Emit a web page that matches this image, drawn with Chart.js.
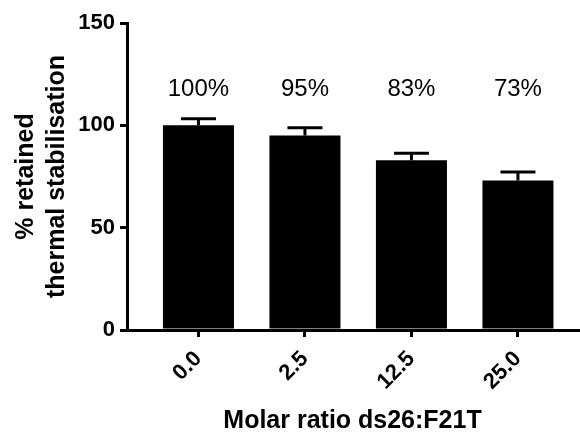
<!DOCTYPE html>
<html>
<head>
<meta charset="utf-8">
<script src="https://cdn.jsdelivr.net/npm/chart.js@4"></script>
<style>
  html, body { margin: 0; padding: 0; background: #fff; }
  #wrap { width: 580px; height: 432px; }
</style>
</head>
<body>
<div id="wrap"><canvas id="grafico" width="580" height="432"></canvas></div>
<script>
// molar ratio categories and % retained stabilisation
const ratios = ["0.0", "2.5", "12.5", "25.0"];
const retained = [100, 95, 83, 73];
const errors = [3.2, 3.8, 3.4, 4.2];
const yTicks = [0, 50, 100, 150];
const labelLevel = 117.5; // height (in % units) where the percentage labels sit

const FONT = '"Liberation Sans", Arial, sans-serif';

// error bars (upper only, like the original)
const errorBars = {
    id: "errorBars",
    afterDatasetsDraw(chart) {
        const ctx = chart.ctx;
        const y = chart.scales.y;
        const meta = chart.getDatasetMeta(0);
        ctx.save();
        ctx.strokeStyle = "#000";
        ctx.lineWidth = 3;
        meta.data.forEach((bar, i) => {
            const top = y.getPixelForValue(retained[i] + errors[i]);
            ctx.beginPath();
            ctx.moveTo(bar.x, bar.y);
            ctx.lineTo(bar.x, top);
            ctx.moveTo(bar.x - 17.5, top);
            ctx.lineTo(bar.x + 17.5, top);
            ctx.stroke();
        });
        ctx.restore();
    }
};

// "100%" etc above the bars
const pctLabels = {
    id: "pctLabels",
    afterDatasetsDraw(chart) {
        const ctx = chart.ctx;
        const y = chart.scales.y;
        const meta = chart.getDatasetMeta(0);
        ctx.save();
        ctx.fillStyle = "#000";
        ctx.font = "24px " + FONT;
        ctx.textAlign = "center";
        ctx.textBaseline = "middle";
        meta.data.forEach((bar, i) => {
            ctx.fillText(retained[i] + "%", bar.x, y.getPixelForValue(labelLevel));
        });
        ctx.restore();
    }
};

const grafico = new Chart(document.getElementById("grafico"), {
    type: "bar",
    data: {
        datasets: [{
            data: retained.map((v, i) => ({ x: i, y: v })),
            backgroundColor: "#000",
            borderWidth: 0,
            categoryPercentage: 1,
            barPercentage: 0.667
        }]
    },
    options: {
        responsive: false,
        animation: false,
        layout: { padding: { top: 23, right: 2, left: 0, bottom: 0 } },
        plugins: {
            legend: { display: false },
            tooltip: { enabled: false }
        },
        scales: {
            x: {
                type: "linear",
                offset: false,
                min: -0.671,
                max: 3.564,
                afterBuildTicks: (scale) => {
                    scale.ticks = ratios.map((_, i) => ({ value: i }));
                },
                afterFit: (scale) => {
                    scale.height = 102;
                    scale.paddingLeft = 0;
                    scale.paddingRight = 0;
                },
                ticks: {
                    autoSkip: false,
                    minRotation: 45,
                    maxRotation: 45,
                    padding: 9,
                    color: "#000",
                    font: { family: FONT, size: 22, weight: "bold" },
                    callback: (v) => ratios[v]
                },
                grid: {
                    offset: false,
                    drawOnChartArea: false,
                    drawTicks: true,
                    tickLength: 7,
                    color: "#000",
                    lineWidth: 3
                },
                border: { display: true, color: "#000", width: 3 },
                title: {
                    display: true,
                    text: "Molar ratio ds26:F21T",
                    color: "#000",
                    font: { family: FONT, size: 25, weight: "bold", lineHeight: 0.9 },
                    padding: { top: 0, bottom: 0 }
                }
            },
            y: {
                min: 0,
                max: 150,
                afterBuildTicks: (scale) => {
                    scale.ticks = yTicks.map(v => ({ value: v }));
                },
                afterFit: (scale) => {
                    scale.width = 127;
                    scale.paddingTop = 0;
                    scale.paddingBottom = 0;
                },
                ticks: {
                    padding: 5,
                    color: "#000",
                    font: { family: FONT, size: 22, weight: "bold" }
                },
                grid: {
                    drawOnChartArea: false,
                    drawTicks: true,
                    tickLength: 7,
                    color: "#000",
                    lineWidth: 3
                },
                border: { display: true, color: "#000", width: 3 },
                title: {
                    display: true,
                    text: ["% retained", "thermal stabilisation"],
                    color: "#000",
                    font: { family: FONT, size: 25, weight: "bold", lineHeight: 1.24 },
                    padding: { top: 10.5, bottom: 0 }
                }
            }
        }
    },
    plugins: [errorBars, pctLabels]
});
</script>
</body>
</html>
